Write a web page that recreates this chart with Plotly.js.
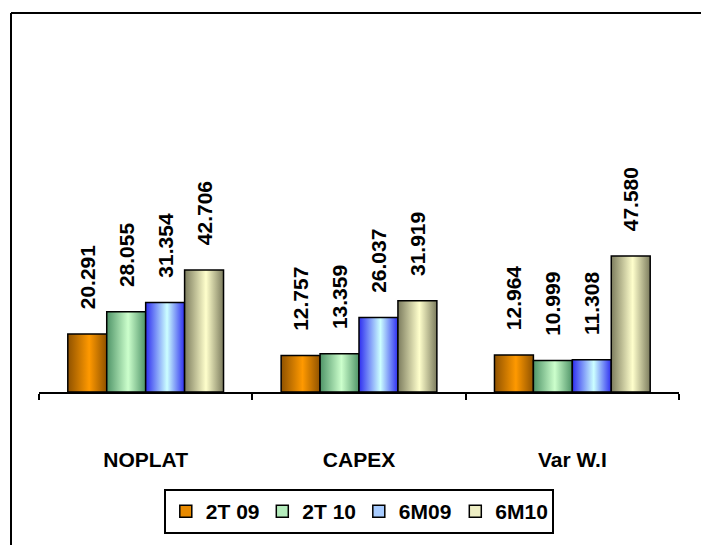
<!DOCTYPE html>
<html>
<head>
<meta charset="utf-8">
<script src="https://cdn.plot.ly/plotly-3.0.1.min.js"></script>
<style>
  html, body { margin: 0; padding: 0; background: #fff; overflow: hidden; }
  #chart { width: 701px; height: 545px; }
</style>
</head>
<body>
<div id="chart"></div>
<script>
// ---- data ----
const categories = ['NOPLAT', 'CAPEX', 'Var W.I'];
const seriesNames = ['2T 09', '2T 10', '6M09', '6M10'];
const s2T09 = [20.291, 12.757, 12.964];
const s2T10 = [28.055, 13.359, 10.999];
const s6M09 = [31.354, 26.037, 11.308];
const s6M10 = [42.706, 31.919, 47.580];
const seriesValues = [s2T09, s2T10, s6M09, s6M10];

// ---- styles ----
const legendColors = ['#e88a00', '#b4ecbc', '#a8ccff', '#eeeec4'];
const gradDark = ['#8f5200', '#4f9468', '#2e2ef0', '#7c7c5e'];
const gradLight = ['#ff9900', '#ccffcc', '#ccffff', '#ffffcc'];
const fontFam = 'Arial, "Liberation Sans", sans-serif';

const traces = seriesNames.map((name, i) => ({
  type: 'bar',
  name: name,
  x: categories,
  y: seriesValues[i],
  marker: { color: legendColors[i], line: { color: '#000', width: 1.5 } },
  texttemplate: '\u00a0\u00a0\u00a0\u2009%{y:.3f}',
  textposition: 'outside',
  textangle: -90,
  constraintext: 'none',
  cliponaxis: false,
  textfont: { family: fontFam, size: 21, weight: 'bold', color: '#000' },
  hoverinfo: 'skip'
}));

const layout = {
  width: 701,
  height: 545,
  margin: { l: 39, r: 22, t: 49, b: 153, autoexpand: false },
  paper_bgcolor: '#fff',
  plot_bgcolor: '#fff',
  barmode: 'group',
  bargap: 0.27,
  bargroupgap: 0,
  showlegend: true,
  font: { family: fontFam, color: '#000' },
  xaxis: {
    type: 'category',
    automargin: false,
    showline: true,
    linecolor: '#000',
    linewidth: 2,
    ticks: 'outside',
    tickson: 'boundaries',
    ticklen: 6,
    tickwidth: 2,
    tickcolor: '#000',
    ticklabelstandoff: 48,
    tickfont: { family: fontFam, size: 21, weight: 'bold', color: '#000' },
    showgrid: false,
    zeroline: false,
    fixedrange: true
  },
  yaxis: {
    range: [0, 120],
    visible: false,
    automargin: false,
    showgrid: false,
    zeroline: false,
    fixedrange: true
  },
  legend: {
    orientation: 'h',
    x: 0.195,
    xanchor: 'left',
    y: -0.283,
    yanchor: 'top',
    bordercolor: '#000',
    borderwidth: 2,
    bgcolor: '#fff',
    entrywidth: 51.5,
    entrywidthmode: 'pixels',
    font: { family: fontFam, size: 21, weight: 'bold', color: '#000' },
    traceorder: 'normal'
  },
  shapes: [
    { type: 'line', xref: 'paper', yref: 'paper',
      x0: -0.04375, x1: 1.0344, y0: 1.105, y1: 1.105,
      line: { color: '#000', width: 2 }, layer: 'below' },
    { type: 'line', xref: 'paper', yref: 'paper',
      x0: -0.04375, x1: -0.04375, y0: 1.105, y1: -0.447,
      line: { color: '#000', width: 2 }, layer: 'below' }
  ]
};

Plotly.newPlot('chart', traces, layout, { displayModeBar: false, staticPlot: true }).then(gd => {
  const svg = gd.querySelector('svg.main-svg');
  const ns = 'http://www.w3.org/2000/svg';
  let defs = svg.querySelector('defs');
  if (!defs) { defs = document.createElementNS(ns, 'defs'); svg.insertBefore(defs, svg.firstChild); }
  gradDark.forEach((dark, i) => {
    const g = document.createElementNS(ns, 'linearGradient');
    g.setAttribute('id', 'barGrad' + i);
    g.setAttribute('x1', '0'); g.setAttribute('y1', '0');
    g.setAttribute('x2', '1'); g.setAttribute('y2', '0');
    [[0, dark], [0.55, gradLight[i]], [1, dark]].forEach(([o, c]) => {
      const st = document.createElementNS(ns, 'stop');
      st.setAttribute('offset', o);
      st.setAttribute('stop-color', c);
      g.appendChild(st);
    });
    defs.appendChild(g);
  });
  const barTraces = gd.querySelectorAll('.barlayer .trace');
  barTraces.forEach((t, i) => {
    t.querySelectorAll('.point path').forEach(p => {
      p.style.fill = 'url(#barGrad' + i + ')';
    });
  });
});
</script>
</body>
</html>
